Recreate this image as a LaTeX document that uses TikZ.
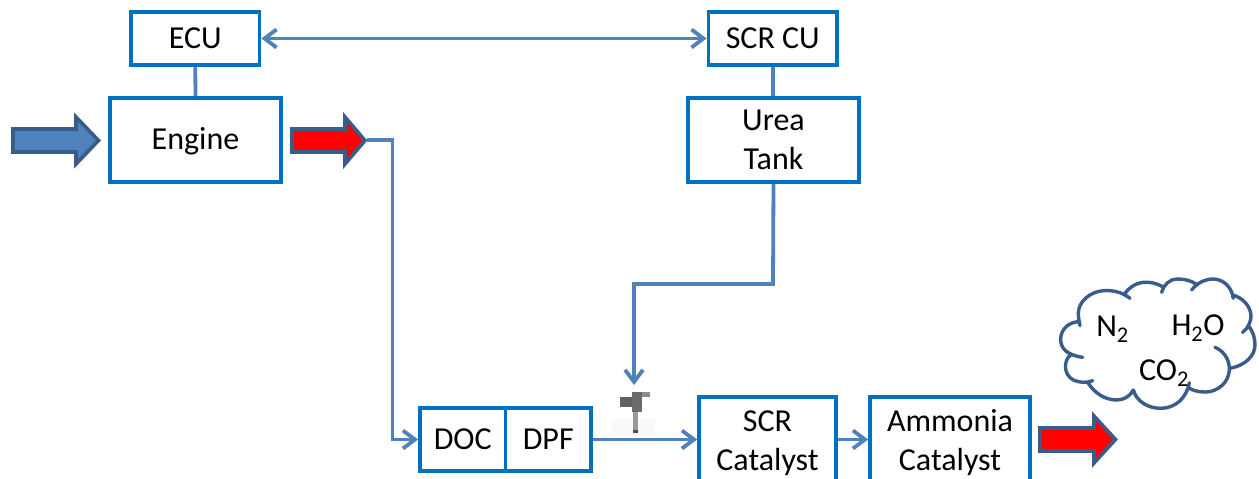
\documentclass[tikz,border=0pt]{standalone}
\usepackage{fontspec}
\setmainfont{Carlito}
\usetikzlibrary{arrows.meta}
\definecolor{boxblue}{HTML}{0070C0}
\definecolor{linkblue}{HTML}{4F81BD}
\definecolor{edgeblue}{HTML}{385D8A}
\tikzset{
 x=1pt,y=-1pt,
 blockbox/.style={draw=boxblue,line width=3.8pt,fill=white,inner sep=0pt,font=\fontsize{32}{39}\selectfont,anchor=north west},
 link/.style={draw=linkblue,line width=3.8pt},
 linkarrow/.style={link,-{Straight Barb[length=12pt,width=18pt,line width=3.8pt]}},
 fatarrow/.style={draw=edgeblue,line width=3.6pt,line join=miter},
 label/.style={font=\fontsize{32}{38}\selectfont,inner sep=0pt},
 cloudline/.style={draw=edgeblue,line width=3.4pt,line cap=round},
}
% name, left, top, right, bottom of the drawn outline, text
\newcommand{\bx}[6]{\pgfmathsetmacro{\bw}{#4-#2}\pgfmathsetmacro{\bh}{#5-#3}%
 \node[blockbox,minimum width=\bw pt,minimum height=\bh pt] (#1) at (#2-1.9,#3-1.9) {\raisebox{0pt}[\dimexpr\height+4pt\relax][\depth]{\begin{tabular}{@{}c@{}}#6\end{tabular}}};}
% start x, head base x, tip x, y, colour
\newcommand{\fat}[5]{%
 \path[fatarrow,fill=#5] (#1,#4-11.5) -- (#2,#4-11.5) -- (#2,#4-23.5) -- (#3,#4) -- (#2,#4+23.5) -- (#2,#4+11.5) -- (#1,#4+11.5) -- cycle;}
\begin{document}
\begin{tikzpicture}
\useasboundingbox (0,0) rectangle (1259,479);
\clip (0,0) rectangle (1259,479);
\path[fill=white] (0,0) rectangle (1259,479);
\bx{ecu}{131}{12}{259.5}{65}{ECU}
\bx{engine}{110}{98}{281}{182}{Engine}
\bx{scrcu}{708.5}{12}{837}{65}{SCR CU}
\bx{urea}{688}{98}{859}{182}{Urea\\Tank}
\bx{doc}{420}{408}{505.5}{471}{DOC}
\bx{dpf}{505.5}{408}{591}{471}{DPF}
\bx{scr}{699}{397}{836}{485}{SCR\\Catalyst}
\bx{amm}{870}{397}{1030}{485}{Ammonia\\Catalyst}
\draw[link] (ecu.south) -- (engine.north);
\draw[link] (scrcu.south) -- (scrcu.south |- urea.north);
\draw[link,{Straight Barb[length=12pt,width=18pt,line width=3.8pt]}-{Straight Barb[length=12pt,width=18pt,line width=3.8pt]}] (ecu.east) -- (scrcu.west);
\fat{13}{76}{98.5}{140.5}{linkblue}
\fat{292}{345}{365}{140.5}{red}
\coordinate (hottip) at (367,140);
\coordinate (turn1) at (392.5,140);
\coordinate (turn2) at (392.5,439.5);
\draw[linkarrow] (hottip) -- (turn1) -- (turn2) -- (doc.west |- turn2);
\coordinate (turn3) at (773,284);
\coordinate (turn4) at (634,284);
\coordinate (inj) at (634,385);
\draw[linkarrow] (urea.south) -- (turn3) -- (turn4) -- (inj);
\draw[linkarrow] (dpf.east |- turn2) -- (scr.west |- turn2);
\draw[linkarrow] (scr.east |- turn2) -- (amm.west |- turn2);
\fat{1040}{1094}{1115.5}{439.5}{red}
% injector
\fill[gray!5] (612,418) rectangle (655,434);
\fill[black!58] (632,392) rectangle (642,412);
\fill[black!62] (620,397) rectangle (632,407);
\fill[black!45] (642,392) rectangle (650,397);
\fill[black!40] (633,412) rectangle (637.5,430);
\fill[black!70] (633,430) rectangle (637.5,433);
% cloud
\begin{scope}[shift={(1020,260)},x=0.3333pt,y=-0.3333pt]
\draw[cloudline]
 (178,185) .. controls (150,185) and (122,205) .. (122,238) .. controls (122,265) and (140,285) .. (188,292)
 (152,285) .. controls (130,300) and (130,345) .. (160,360) .. controls (178,368) and (200,370) .. (218,362)
 (205,370) .. controls (225,400) and (255,420) .. (290,420) .. controls (310,420) and (330,410) .. (340,390)
 (340,390) .. controls (350,425) and (385,445) .. (422,445) .. controls (465,445) and (500,415) .. (508,368)
 (508,385) .. controls (525,395) and (550,398) .. (570,395) .. controls (610,385) and (630,355) .. (628,320) .. controls (625,295) and (610,272) .. (585,262)
 (630,325) .. controls (680,315) and (705,285) .. (705,255) .. controls (705,235) and (700,215) .. (685,197)
 (668,217) .. controls (685,205) and (695,180) .. (693,165) .. controls (690,135) and (665,112) .. (638,105)
 (640,115) .. controls (635,80) and (610,58) .. (580,57) .. controls (555,57) and (530,70) .. (515,90)
 (528,72) .. controls (510,60) and (490,57) .. (470,57) .. controls (450,57) and (430,75) .. (425,97)
 (428,80) .. controls (410,70) and (390,65) .. (370,67) .. controls (345,70) and (325,85) .. (315,100)
 (330,115) .. controls (305,95) and (275,90) .. (250,92) .. controls (210,95) and (175,125) .. (175,160) .. controls (175,175) and (178,185) .. (180,197);
\end{scope}
\node[label] (n2) at (1112.5,329) {N\textsubscript{2}};
\node[label] (h2o) at (1198,328) {H\textsubscript{2}O};
\node[label] (co2) at (1164,373) {CO\textsubscript{2}};
\end{tikzpicture}
\end{document}
